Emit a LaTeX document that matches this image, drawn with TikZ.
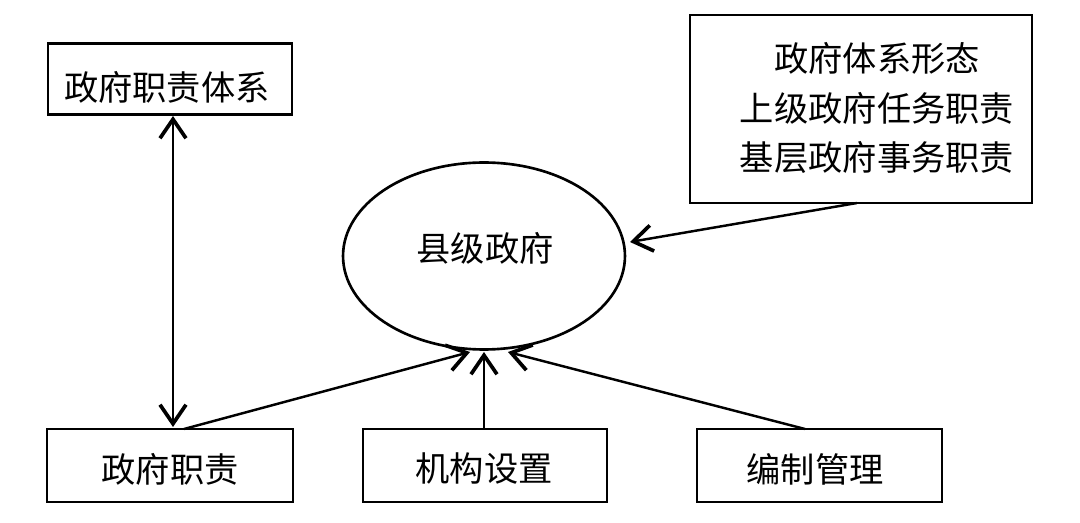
\documentclass[tikz,border=0pt]{standalone}
\usepackage{fontspec}
\setmainfont{Noto Sans CJK SC}
\usetikzlibrary{arrows.meta,shapes.geometric}
\begin{document}
\begin{tikzpicture}[x=0.02cm,y=-0.02cm,
  box/.style={draw,line width=1.5pt,inner sep=0pt},
  txt/.style={inner sep=0pt,font=\fontsize{19.5}{28}\selectfont},
  tip/.tip={Straight Barb[length=0.38cm,width=0.52cm,line width=2.1pt]},
  conn/.style={line width=1.4pt,-tip},
  dconn/.style={line width=1.4pt,tip-tip}]
\useasboundingbox (0,0) rectangle (1080,523);
\node[box,minimum width=4.88cm,minimum height=1.42cm] (sys) at (170,79) {};
\node[txt] (systext) at (167,87) {政府职责体系};
\node[box,minimum width=6.84cm,minimum height=3.76cm] (info) at (861,109) {};
\node[txt,align=center] (infotext) at (877,108) {政府体系形态\\上级政府任务职责\\基层政府事务职责};
\node[box,ellipse,minimum width=5.64cm,minimum height=3.74cm] (county) at (484,256) {};
\node[txt] (countytext) at (485,248) {县级政府};
\node[box,minimum width=4.92cm,minimum height=1.46cm] (duty) at (170,465.5) {};
\node[txt] (dutytext) at (170,469) {政府职责};
\node[box,minimum width=4.88cm,minimum height=1.46cm] (org) at (485,465.5) {};
\node[txt] (orgtext) at (484,469) {机构设置};
\node[box,minimum width=4.9cm,minimum height=1.46cm] (staff) at (819.5,465.5) {};
\node[txt] (stafftext) at (815,469) {编制管理};
\coordinate (d1) at (173,116);
\coordinate (d2) at (173,427);
\coordinate (r1) at (857,203);
\coordinate (r2) at (630,242);
\coordinate (b1) at (184,429);
\coordinate (t1) at (470,352);
\coordinate (t2) at (484,352);
\coordinate (b3) at (805,429);
\coordinate (t3) at (508,352);
\coordinate (b2) at (484,429);
\draw[dconn] (d1) -- (d2);
\draw[conn] (r1) -- (r2);
\draw[conn] (b1) -- (t1);
\draw[conn] (b2) -- (t2);
\draw[conn] (b3) -- (t3);
\end{tikzpicture}
\end{document}
